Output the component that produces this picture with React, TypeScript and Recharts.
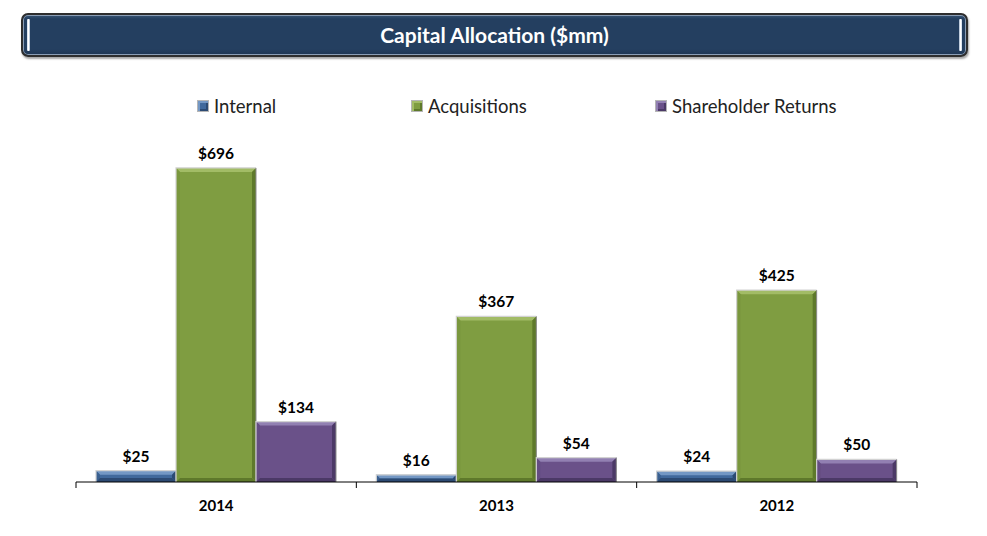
import React from 'react';
import { BarChart, Bar, XAxis, YAxis, Legend, LabelList } from 'recharts';

const categories = ['2014', '2013', '2012'];
const internalValues = [25, 16, 24];
const acquisitionValues = [696, 367, 425];
const shareholderValues = [134, 54, 50];
const seriesNames = ['Internal', 'Acquisitions', 'Shareholder Returns'];

const data = categories.map((c, i) => ({
  year: c,
  internal: internalValues[i],
  acquisitions: acquisitionValues[i],
  shareholder: shareholderValues[i],
}));

const FONT = 'Lato, "Open Sans", sans-serif';

const palettes: Record<string, { base: string; light: string; dark: string; side: string }> = {
  internal: { base: '#41699c', light: '#7397c4', dark: '#2c4a73', side: '#3a6090' },
  acquisitions: { base: '#7f9d41', light: '#a2bc66', dark: '#5e792b', side: '#7a973e' },
  shareholder: { base: '#6a5189', light: '#9280b2', dark: '#4b3966', side: '#654d83' },
};

const makeShape = (key: string) => (props: any) => {
  const { x, y, width, height } = props;
  if (!height || height <= 0) return <g />;
  const p = palettes[key];
  const b = Math.min(4, height / 2, width / 2);
  return (
    <g>
      <rect x={x} y={y} width={width} height={height} fill={p.base} />
      <polygon points={`${x},${y} ${x + width},${y} ${x + width - b},${y + b} ${x + b},${y + b}`} fill={p.light} />
      <polygon points={`${x},${y} ${x + b},${y + b} ${x + b},${y + height - b} ${x},${y + height}`} fill={p.side} />
      <polygon points={`${x + width},${y} ${x + width - b},${y + b} ${x + width - b},${y + height - b} ${x + width},${y + height}`} fill={p.dark} />
      <polygon points={`${x},${y + height} ${x + b},${y + height - b} ${x + width - b},${y + height - b} ${x + width},${y + height}`} fill={p.dark} />
      <polyline points={`${x},${y + height} ${x},${y} ${x + width},${y}`} fill="none" stroke="#d2d2d2" strokeWidth={1.2} />
      <line x1={x + width} y1={y} x2={x + width} y2={y + height} stroke="#8c8c8c" strokeWidth={1} />
    </g>
  );
};

const TICK_SIZE = 6;

const CategoryTick = (props: any) => {
  const { x, y, payload, index, visibleTicksCount, width } = props;
  const half = payload && typeof payload.offset === 'number' && payload.offset > 0
    ? payload.offset
    : width / visibleTicksCount / 2;
  const axisY = y - TICK_SIZE;
  return (
    <g>
      <line x1={x - half} x2={x - half} y1={axisY} y2={axisY + TICK_SIZE} stroke="#000" strokeWidth={1} />
      {index === visibleTicksCount - 1 && (
        <line x1={x + half} x2={x + half} y1={axisY} y2={axisY + TICK_SIZE} stroke="#000" strokeWidth={1} />
      )}
      <text x={x} y={axisY + 29} textAnchor="middle" fontFamily={FONT} fontWeight={700} fontSize={15} fill="#000">
        {payload.value}
      </text>
    </g>
  );
};

const legendX = [197, 411, 655];
const legendKeys = ['internal', 'acquisitions', 'shareholder'];

const LegendContent = () => (
  <div style={{ position: 'relative', width: 987, height: 24 }}>
    {seriesNames.map((name, i) => {
      const p = palettes[legendKeys[i]];
      return (
        <div key={name} style={{ position: 'absolute', left: legendX[i], top: 0, display: 'flex', alignItems: 'center', height: 24 }}>
          <span
            style={{
              display: 'inline-block',
              width: 10,
              height: 10,
              background: p.base,
              border: '1px solid #b5b5b5',
              boxShadow: `inset 2px 2px 0 ${p.light}, inset -2px -2px 0 ${p.dark}`,
            }}
          />
          <span style={{ marginLeft: 5, fontFamily: FONT, fontSize: 18.5, color: '#222' }}>{name}</span>
        </div>
      );
    })}
  </div>
);

const fmt = (v: any) => `$${v}`;

export default function App() {
  return (
    <div style={{ position: 'absolute', left: 0, top: 0, width: 987, height: 536, background: '#fff', overflow: 'hidden' }}>
      <div
        style={{
          position: 'absolute',
          left: 21,
          top: 13,
          width: 943,
          height: 40,
          borderRadius: 7,
          border: '2px solid #2e2e2e',
          background: 'linear-gradient(#3a5676 0px, #243f60 4px, #243f60 34px, #1e3653 40px)',
          boxShadow: 'inset 0 0 0 1px #8a9db5, 1px 2px 2px rgba(0,0,0,0.35)',
          display: 'flex',
          alignItems: 'center',
          justifyContent: 'center',
          color: '#fff',
          fontFamily: FONT,
          fontWeight: 700,
          fontSize: 21,
        }}
      >
        <div style={{ position: 'absolute', left: 4, top: 4, width: 3, height: 32, background: 'linear-gradient(90deg,#c9d6e6,#ffffff,#9fb3cc)', borderRadius: 1 }} />
        <div style={{ position: 'absolute', right: 4, top: 4, width: 3, height: 32, background: 'linear-gradient(90deg,#9fb3cc,#ffffff,#c9d6e6)', borderRadius: 1 }} />
        <span style={{ position: 'relative', top: -1 }}>Capital Allocation ($mm)</span>
      </div>
      <BarChart
        width={987}
        height={536}
        data={data}
        margin={{ top: 121, right: 70, bottom: 24, left: 76 }}
        barCategoryGap={20}
        barGap={0}
        style={{ position: 'absolute', left: 0, top: 0 }}
      >
        <YAxis hide domain={[0, 800]} />
        <XAxis
          dataKey="year"
          height={30}
          axisLine={{ stroke: '#000', strokeWidth: 1 }}
          tickLine={false}
          tickSize={TICK_SIZE}
          tickMargin={0}
          tick={<CategoryTick />}
          interval={0}
        />
        <Legend
          verticalAlign="middle"
          align="center"
          content={<LegendContent />}
          wrapperStyle={{ top: 94, left: 0, width: 987 }}
        />
        <Bar dataKey="internal" name={seriesNames[0]} fill={palettes.internal.base} shape={makeShape('internal')} isAnimationActive={false}>
          <LabelList dataKey="internal" position="top" offset={9} formatter={fmt} fill="#000" fontFamily={FONT} fontWeight={700} fontSize={15.5} />
        </Bar>
        <Bar dataKey="acquisitions" name={seriesNames[1]} fill={palettes.acquisitions.base} shape={makeShape('acquisitions')} isAnimationActive={false}>
          <LabelList dataKey="acquisitions" position="top" offset={9} formatter={fmt} fill="#000" fontFamily={FONT} fontWeight={700} fontSize={15.5} />
        </Bar>
        <Bar dataKey="shareholder" name={seriesNames[2]} fill={palettes.shareholder.base} shape={makeShape('shareholder')} isAnimationActive={false}>
          <LabelList dataKey="shareholder" position="top" offset={9} formatter={fmt} fill="#000" fontFamily={FONT} fontWeight={700} fontSize={15.5} />
        </Bar>
      </BarChart>
    </div>
  );
}
